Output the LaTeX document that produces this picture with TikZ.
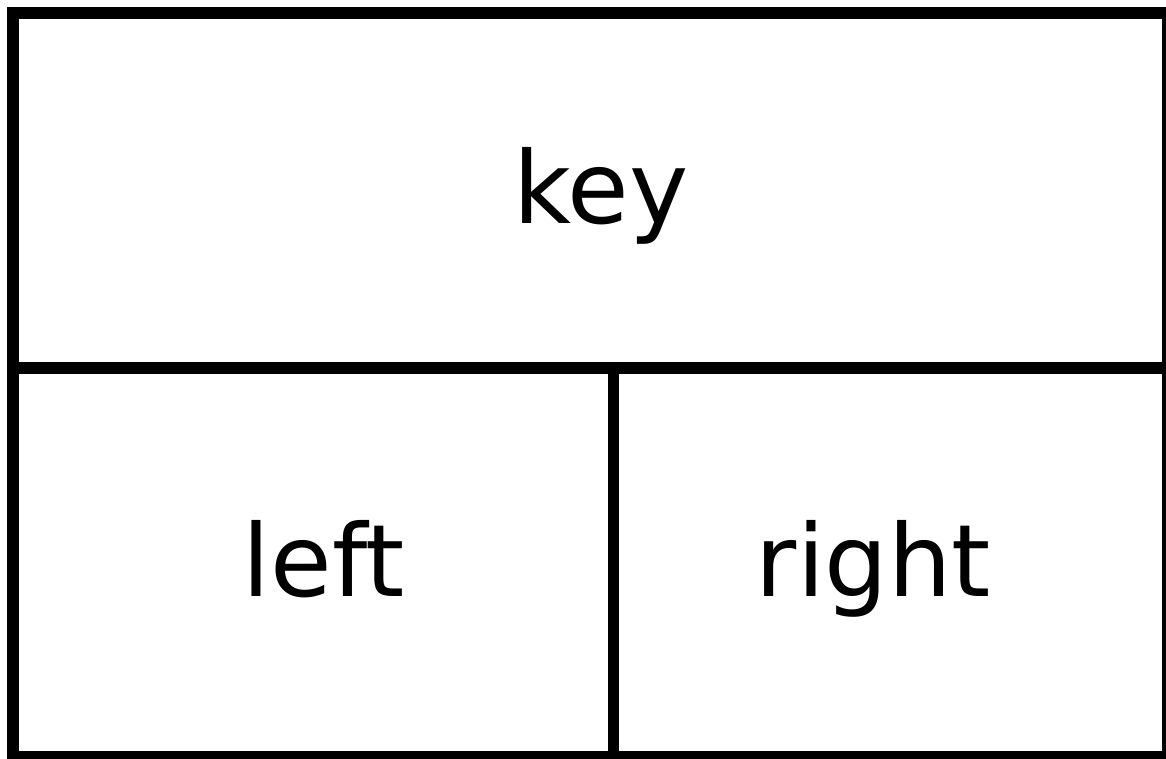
\documentclass[tikz,border=0pt]{standalone}
\usepackage{fontspec}
\setmainfont{DejaVu Sans}
\usetikzlibrary{positioning}

\begin{document}
\begin{tikzpicture}[
  x=0.02cm, y=-0.02cm,
  cell/.style={draw, line width=6.8pt, inner sep=0pt, outer sep=0pt, minimum height=7.78cm},
  lbl/.style={font=\fontsize{57}{68}\selectfont, anchor=base, inner sep=0pt}
]
\useasboundingbox (0,0) rectangle (1166,759);

% Key on top, left and right below it
\node[cell, minimum width=23.1cm, minimum height=7.1cm] (keycell) at (590.5,190.5) {};
\node[cell, minimum width=12.01cm, anchor=north west] (leftcell) at (keycell.south west) {};
\node[cell, minimum width=11.09cm, anchor=north west] (rightcell) at (leftcell.north east) {};

% Labels
\node[lbl] (keytxt) at (601,224) {key};
\node[lbl] (lefttxt) at (324,597) {left};
\node[lbl] (righttxt) at (873.5,597) {right};

\end{tikzpicture}
\end{document}
